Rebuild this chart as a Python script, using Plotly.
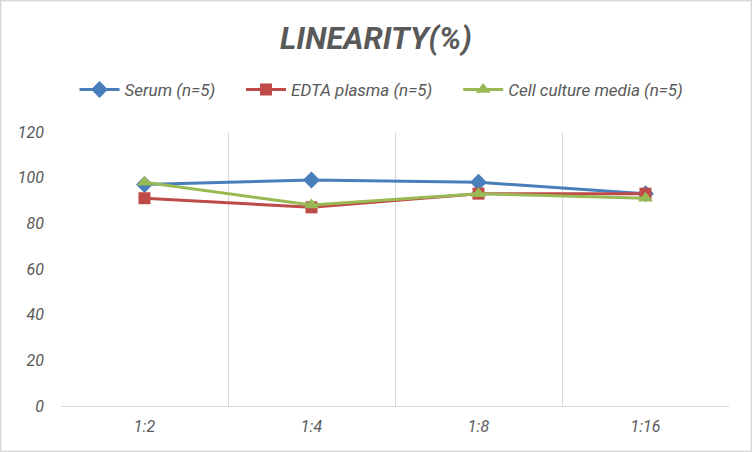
import plotly.graph_objects as go

# linearity chart, three sample types over dilutions
dilutions = ["1:2", "1:4", "1:8", "1:16"]
serum = [97, 99, 98, 93]
edta_plasma = [91, 87, 93, 93]
cell_media = [98, 88, 93, 91]

txt_col = "#595959"
grid_col = "#d9d9d9"
fnt = "Roboto, Liberation Sans, sans-serif"
pad = "\u00a0" * 5  # a bit more room between legend entries

series = [
    ("Serum (n=5)", serum, "#4a7ebb", "diamond", 13),
    ("EDTA plasma (n=5)", edta_plasma, "#be4b48", "square", 12),
    ("Cell culture media (n=5)", cell_media, "#98b954", "triangle-up", 13),
]

fig = go.Figure()
for name, vals, col, sym, sz in series:
    fig.add_trace(go.Scatter(
        x=dilutions, y=vals, name=name + pad, mode="lines+markers",
        line=dict(color=col, width=3),
        marker=dict(symbol=sym, size=sz, color=col),
    ))

W, H = 752, 452
ml, mr, mt, mb = 61, 23, 132, 46
pw, ph = W - ml - mr, H - mt - mb

fig.update_layout(
    width=W, height=H,
    margin=dict(l=ml, r=mr, t=mt, b=mb),
    paper_bgcolor="white", plot_bgcolor="white",
    font=dict(family=fnt, color=txt_col, size=16),
    title=dict(
        text="<b><i>LINEARITY(%)</i></b>",
        x=0.5, xanchor="center", y=1 - 38 / H, yanchor="middle",
        font=dict(size=31, color=txt_col, family=fnt),
    ),
    legend=dict(
        orientation="h", x=(392 - ml) / pw, xanchor="center",
        y=1 + (mt - 90) / ph, yanchor="middle",
        font=dict(size=17, style="italic"),
        itemwidth=40,
    ),
    xaxis=dict(
        type="category", range=[-0.5, 3.5], tickson="boundaries",
        showgrid=True, gridcolor=grid_col, gridwidth=1,
        showline=True, linecolor=grid_col, linewidth=1,
        ticks="", tickfont=dict(size=16, style="italic"),
        ticklabelstandoff=6, zeroline=False,
    ),
    yaxis=dict(
        range=[0, 120], dtick=20, showgrid=False,
        showline=False, zeroline=False, ticks="",
        tickfont=dict(size=16, style="italic"),
        ticklabelstandoff=16,
    ),
    shapes=[dict(
        type="rect", xref="paper", yref="paper",
        x0=-ml / pw, x1=1 + mr / pw, y0=-mb / ph, y1=1 + mt / ph,
        line=dict(color="#d9d9d9", width=3), fillcolor="rgba(0,0,0,0)",
    )],
)

# page has a default body margin, drop it so the chart sits at 0,0
fig.write_html("out.html", config={"displayModeBar": False},
               post_script="document.body.style.margin='0';")
